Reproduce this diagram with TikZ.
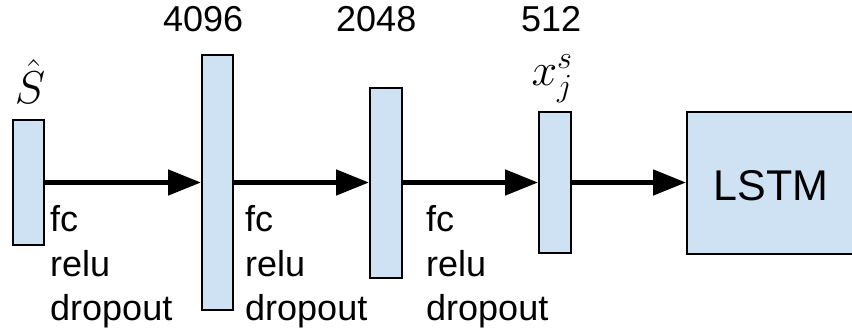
\RequirePackage{fix-cm}
\documentclass[tikz,border=0pt]{standalone}
\usepackage{fontspec}
\setmainfont{Liberation Sans}
\usetikzlibrary{arrows.meta}
\definecolor{boxblue}{HTML}{CFE2F3}
\tikzset{
  layer/.style={draw=black, line width=2pt, fill=boxblue, rectangle, inner sep=0pt},
  conn/.style={line width=5pt, -{Triangle[length=33pt,width=25pt]}},
  lbl/.style={anchor=base west, inner sep=0pt, font=\fontsize{36}{40}\selectfont},
  num/.style={anchor=base west, inner sep=0pt, font=\fontsize{36}{40}\selectfont},
  mathlbl/.style={anchor=base, inner sep=0pt, font=\fontsize{46}{50}\selectfont},
}
\begin{document}
\begin{tikzpicture}[x=1pt,y=-1pt]
\useasboundingbox (0,0) rectangle (852,335);
\clip (0,0) rectangle (852,335);
\node[layer, minimum width=31pt, minimum height=125pt] (b1) at (28.5,182.5) {};
\node[layer, minimum width=31pt, minimum height=255pt] (b2) at (217.5,182.5) {};
\node[layer, minimum width=32pt, minimum height=190pt] (b3) at (386,182.5) {};
\node[layer, minimum width=32pt, minimum height=141pt] (b4) at (555,182.5) {};
\node[layer, minimum width=190pt, minimum height=142pt] (lstm) at (782,182.5) {};
\node[anchor=base, inner sep=0pt, font=\fontsize{43}{47}\selectfont] (lstmtxt) at (771,200) {LSTM};
\draw[conn] (b1.east) -- (b2.west);
\draw[conn] (b2.east) -- (b3.west);
\draw[conn] (b3.east) -- (b4.west);
\draw[conn] (b4.east) -- (lstm.west);
\node[mathlbl] (shat) at (30,103) {$\hat{S}$};
\node[mathlbl] (xjs) at (552,85) {$x_j^s$};
\node[num] (n1) at (163,31) {4096};
\node[num] (n2) at (336,31) {2048};
\node[num] (n3) at (521,31) {512};
\node[lbl] (f1) at (50,231) {fc};
\node[lbl] (r1) at (50,276) {relu};
\node[lbl] (d1) at (50,320) {dropout};
\node[lbl] (f2) at (245,231) {fc};
\node[lbl] (r2) at (245,276) {relu};
\node[lbl] (d2) at (245,320) {dropout};
\node[lbl] (f3) at (426,231) {fc};
\node[lbl] (r3) at (426,276) {relu};
\node[lbl] (d3) at (426,320) {dropout};
\end{tikzpicture}
\end{document}
